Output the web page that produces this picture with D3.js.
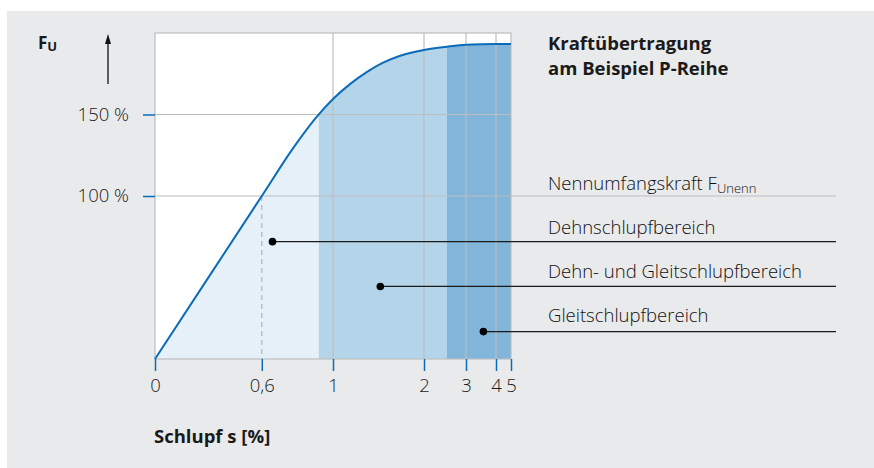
<!DOCTYPE html>
<html>
<head>
<meta charset="utf-8">
<script src="https://cdn.jsdelivr.net/npm/d3@7"></script>
<style>
  body { margin: 0; background: #fff; }
  text { font-family: "Open Sans", sans-serif; fill: #1a1a1a; }
</style>
</head>
<body>
<div id="chart"></div>
<script>
// slip ticks on the x axis (non-linear beyond 1 %)
var slipTicks = [0, 0.6, 1, 2, 3, 4, 5];
var slipTickLabels = ["0", "0,6", "1", "2", "3", "4", "5"];
var forceTicks = [100, 150];
var forceTickLabels = ["100 %", "150 %"];

// transmitted force curve
var curveSlip  = [0, 0.6, 0.78, 0.9, 1, 1.19, 1.37, 1.55, 1.73, 2, 2.55, 3, 4, 5];
var curveForce = [0, 100, 130, 147.5, 159.5, 168.8, 176, 181.8, 185.9, 189.6, 191.6, 192.8, 193.3, 193.3];

// ranges: Dehnschlupf, Dehn- und Gleitschlupf, Gleitschlupf
var rangeBounds = [0, 0.92, 2.55, 5];
var rangeColors = ["#e5f0f8", "#b4d4e9", "#81b5da"];

var legendLabels = ["Nennumfangskraft F", "Dehnschlupfbereich", "Dehn- und Gleitschlupfbereich", "Gleitschlupfbereich"];
var legendDotSlip  = [null, 0.66, 1.52, 3.58];
var legendDotForce = [100, 72, 44.5, 16.8];

var width = 874, height = 468;
var blue = "#0a6cb8", grid = "#bcbec1";

var svg = d3.select("#chart").append("svg")
    .attr("width", width)
    .attr("height", height);

svg.append("rect")
    .attr("x", 7).attr("y", 11)
    .attr("width", width - 7).attr("height", height - 11)
    .attr("fill", "#e9eaec");

var x = d3.scaleLinear()
    .domain([0, 1, 2, 3, 4, 5])
    .range([155, 333, 424, 466, 496, 511]);

var y = d3.scaleLinear()
    .domain([0, 200])
    .range([359, 33]);

var curveData = curveSlip.map(function(s, i) { return { s: s, f: curveForce[i] }; });

// plot background
svg.append("rect")
    .attr("x", x(0)).attr("y", y(200))
    .attr("width", x(5) - x(0)).attr("height", y(0) - y(200))
    .attr("fill", "#fff");

var area = d3.area()
    .x(function(d) { return x(d.s); })
    .y0(y(0))
    .y1(function(d) { return y(d.f); })
    .curve(d3.curveMonotoneX);

var line = d3.line()
    .x(function(d) { return x(d.s); })
    .y(function(d) { return y(d.f); })
    .curve(d3.curveMonotoneX);

var defs = svg.append("defs");
rangeColors.forEach(function(c, i) {
    defs.append("clipPath").attr("id", "clip" + i)
        .append("rect")
        .attr("x", x(rangeBounds[i]))
        .attr("y", y(200))
        .attr("width", x(rangeBounds[i + 1]) - x(rangeBounds[i]))
        .attr("height", y(0) - y(200));
    svg.append("path")
        .datum(curveData)
        .attr("clip-path", "url(#clip" + i + ")")
        .attr("fill", c)
        .attr("d", area);
});

// grid
svg.selectAll(".vgrid").data([1, 2, 3, 4]).enter().append("line")
    .attr("x1", function(d) { return x(d); })
    .attr("x2", function(d) { return x(d); })
    .attr("y1", y(200)).attr("y2", y(0))
    .attr("stroke", grid).attr("stroke-width", 1.2);

svg.append("line")
    .attr("x1", x(0)).attr("x2", x(5))
    .attr("y1", y(150)).attr("y2", y(150))
    .attr("stroke", grid).attr("stroke-width", 1.2);

svg.append("line")
    .attr("x1", x(0)).attr("x2", 836)
    .attr("y1", y(100)).attr("y2", y(100))
    .attr("stroke", grid).attr("stroke-width", 1.2);

// nominal force marker at 0,6 %
svg.append("line")
    .attr("x1", x(0.6)).attr("x2", x(0.6))
    .attr("y1", y(100)).attr("y2", y(0))
    .attr("stroke", "#b0b2b5").attr("stroke-width", 1.2)
    .attr("stroke-dasharray", "5,4");

// frame
svg.append("rect")
    .attr("x", x(0)).attr("y", y(200))
    .attr("width", x(5) - x(0)).attr("height", y(0) - y(200))
    .attr("fill", "none")
    .attr("stroke", grid).attr("stroke-width", 1.2);

svg.append("path")
    .datum(curveData)
    .attr("fill", "none")
    .attr("stroke", blue)
    .attr("stroke-width", 2)
    .attr("d", line);

// axes
var xAxis = svg.append("g")
    .attr("transform", "translate(0," + y(0) + ")")
    .call(d3.axisBottom(x)
        .tickValues(slipTicks)
        .tickFormat(function(d, i) { return slipTickLabels[i]; })
        .tickSize(12)
        .tickPadding(8));

var yAxis = svg.append("g")
    .attr("transform", "translate(" + x(0) + ",0)")
    .call(d3.axisLeft(y)
        .tickValues(forceTicks)
        .tickFormat(function(d, i) { return forceTickLabels[i]; })
        .tickSize(12)
        .tickPadding(14));

[xAxis, yAxis].forEach(function(g) {
    g.select(".domain").remove();
    g.selectAll(".tick line").attr("stroke", blue).attr("stroke-width", 1.5);
    g.selectAll(".tick text")
        .style("font-family", "'Open Sans', sans-serif")
        .style("font-size", "18.5px")
        .style("font-weight", 300)
        .attr("fill", "#111");
});

// legend
legendLabels.forEach(function(label, i) {
    var ly = y(legendDotForce[i]);
    if (i > 0) {
        svg.append("line")
            .attr("x1", x(legendDotSlip[i])).attr("x2", 836)
            .attr("y1", ly).attr("y2", ly)
            .attr("stroke", "#1a1a1a").attr("stroke-width", 1.3);
        svg.append("circle")
            .attr("cx", x(legendDotSlip[i])).attr("cy", ly)
            .attr("r", 3.8)
            .attr("fill", "#000");
    }
    var t = svg.append("text")
        .attr("x", 548)
        .attr("y", 190 + i * 44)
        .style("font-size", "18.5px")
        .style("font-weight", 300)
        .style("fill", "#111")
        .text(label);
    if (i === 0) {
        t.append("tspan")
            .attr("dy", 3)
            .style("font-size", "13px")
            .text("Unenn");
    }
});

svg.append("text")
    .attr("x", 548).attr("y", 50)
    .style("font-size", "18.5px").style("font-weight", 700)
    .text("Kraftübertragung");
svg.append("text")
    .attr("x", 548).attr("y", 75)
    .style("font-size", "18.5px").style("font-weight", 700)
    .text("am Beispiel P-Reihe");

// y label with arrow
var fu = svg.append("text")
    .attr("x", 38).attr("y", 49)
    .style("font-size", "17px").style("font-weight", 700)
    .text("F");
fu.append("tspan")
    .attr("dy", 2)
    .style("font-size", "13px")
    .text("U");

svg.append("line")
    .attr("x1", 108).attr("x2", 108)
    .attr("y1", 84).attr("y2", 42)
    .attr("stroke", "#111").attr("stroke-width", 1.3);
svg.append("path")
    .attr("d", d3.line()([[105, 44], [108, 34], [111, 44]]) + "Z")
    .attr("fill", "#111");

svg.append("text")
    .attr("x", 154).attr("y", 443)
    .style("font-size", "18.5px").style("font-weight", 700)
    .text("Schlupf s [%]");
</script>
</body>
</html>
